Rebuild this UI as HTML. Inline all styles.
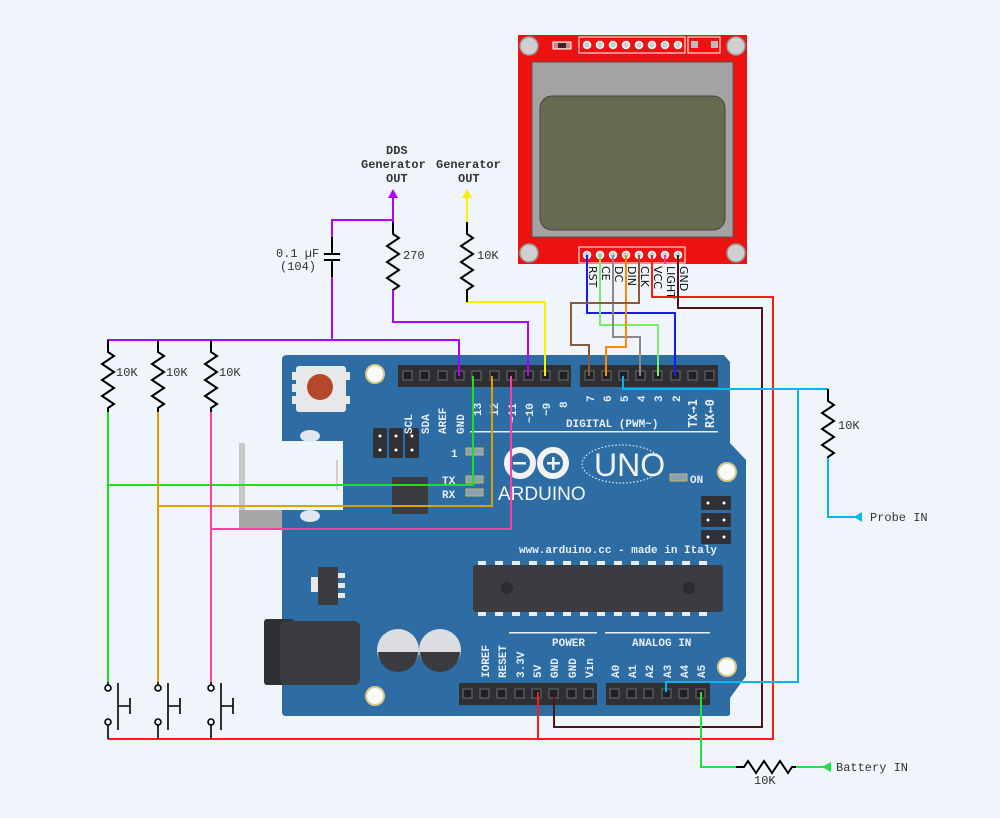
<!DOCTYPE html>
<html><head><meta charset="utf-8"><style>
html,body{margin:0;padding:0;background:#f0f4fb;}
svg{display:block;}
.w{fill:none;stroke-width:2;}
.lbl{font-family:"Liberation Mono",monospace;font-size:12px;fill:#333;}
.bl{font-family:"Liberation Mono","DejaVu Sans Mono",monospace;font-weight:bold;font-size:11px;fill:#e8eef5;}
.ar{font-family:"DejaVu Sans Mono",monospace;font-weight:bold;fill:#e8eef5;}
.lc{font-family:"DejaVu Sans","Liberation Sans",sans-serif;font-size:11px;fill:#111;}
</style></head><body>
<svg width="1000" height="818" viewBox="0 0 1000 818" xmlns="http://www.w3.org/2000/svg">
<rect width="1000" height="818" fill="#f0f4fb"/>

<rect x="239" y="510" width="44" height="20" fill="#a7a7a7"/>
<path d="M288 355 H724 L730 362 V443 L746 460 V676 L730 698 V714 Q730 716 726 716 H286 Q282 716 282 712 V359 Q282 355 288 355 Z" fill="#2d6da3"/>
<rect x="239" y="441" width="104" height="69" fill="#f0f4fb"/>
<rect x="239" y="443" width="6" height="67" fill="#c8c8c8"/>
<rect x="336" y="460" width="2" height="30" fill="#d0d0d0"/>
<ellipse cx="310" cy="436" rx="10" ry="6" fill="#dfe6ee"/>
<ellipse cx="310" cy="516" rx="10" ry="6" fill="#dfe6ee"/>

<rect x="296" y="366" width="50" height="46" rx="3" fill="#e6e8ea"/>
<rect x="292" y="372" width="4" height="8" fill="#e6e8ea"/><rect x="292" y="384" width="4" height="8" fill="#e6e8ea"/><rect x="292" y="396" width="4" height="8" fill="#e6e8ea"/>
<rect x="346" y="372" width="4" height="8" fill="#e6e8ea"/><rect x="346" y="396" width="4" height="8" fill="#e6e8ea"/>
<circle cx="320" cy="387" r="13" fill="#b5472a"/>
<g fill="#fafafa" stroke="#d8c98a" stroke-width="2">
<circle cx="375" cy="374" r="9"/><circle cx="727" cy="472" r="9"/><circle cx="727" cy="667" r="9"/><circle cx="375" cy="696" r="9"/>
</g>
<g fill="#2f3136"><rect x="373" y="428" width="14" height="30" rx="2"/><rect x="389" y="428" width="14" height="30" rx="2"/><rect x="405" y="428" width="14" height="30" rx="2"/></g>
<g fill="#fff"><circle cx="380" cy="436" r="1.5"/><circle cx="380" cy="450" r="1.5"/><circle cx="396" cy="436" r="1.5"/><circle cx="396" cy="450" r="1.5"/><circle cx="412" cy="436" r="1.5"/><circle cx="412" cy="450" r="1.5"/></g>
<rect x="392" y="477" width="36" height="37" rx="2" fill="#3a3c40"/>
<g fill="#8aa0b5" stroke="#c9b66a" stroke-width="1"><rect x="466" y="448" width="17" height="7"/><rect x="466" y="476" width="17" height="7"/><rect x="466" y="489" width="17" height="7"/><rect x="670" y="474" width="17" height="7"/></g>
<text x="451" y="457" class="bl" font-size="12">1</text>
<text x="442" y="484" class="bl" font-size="12">TX</text>
<text x="442" y="498" class="bl" font-size="12">RX</text>
<text x="690" y="483" class="bl" font-size="12">ON</text>
<g fill="#2f3136"><rect x="701" y="496" width="30" height="14" rx="2"/><rect x="701" y="513" width="30" height="14" rx="2"/><rect x="701" y="530" width="30" height="14" rx="2"/></g>
<g fill="#fff"><circle cx="708" cy="503" r="1.5"/><circle cx="724" cy="503" r="1.5"/><circle cx="708" cy="520" r="1.5"/><circle cx="724" cy="520" r="1.5"/><circle cx="708" cy="537" r="1.5"/><circle cx="724" cy="537" r="1.5"/></g>
<g fill="none" stroke="#f2f2f2" stroke-width="6"><circle cx="520" cy="463" r="13"/><circle cx="553" cy="463" r="13"/></g>
<rect x="513" y="462" width="13" height="2.5" fill="#f2f2f2"/>
<rect x="547" y="462" width="13" height="2.5" fill="#f2f2f2"/><rect x="552" y="457" width="2.5" height="13" fill="#f2f2f2"/>
<text x="498" y="500" font-family="Liberation Sans,sans-serif" font-size="19" fill="#f2f2f2">ARDUINO</text>
<ellipse cx="622" cy="464" rx="40" ry="19" fill="none" stroke="#e8eef5" stroke-width="1.2" stroke-dasharray="1.5 2"/>
<text x="594" y="476" font-family="Liberation Sans,sans-serif" font-size="32" fill="#eef2f7">UNO</text>
<text x="519" y="553" class="bl" font-size="8.5">www.arduino.cc - made in Italy</text>
<g fill="#e8ecf0">
<rect x="478" y="561" width="8" height="4"/><rect x="495" y="561" width="8" height="4"/><rect x="512" y="561" width="8" height="4"/><rect x="529" y="561" width="8" height="4"/><rect x="546" y="561" width="8" height="4"/><rect x="563" y="561" width="8" height="4"/><rect x="580" y="561" width="8" height="4"/><rect x="597" y="561" width="8" height="4"/><rect x="614" y="561" width="8" height="4"/><rect x="631" y="561" width="8" height="4"/><rect x="648" y="561" width="8" height="4"/><rect x="665" y="561" width="8" height="4"/><rect x="682" y="561" width="8" height="4"/><rect x="699" y="561" width="8" height="4"/>
<rect x="478" y="612" width="8" height="4"/><rect x="495" y="612" width="8" height="4"/><rect x="512" y="612" width="8" height="4"/><rect x="529" y="612" width="8" height="4"/><rect x="546" y="612" width="8" height="4"/><rect x="563" y="612" width="8" height="4"/><rect x="580" y="612" width="8" height="4"/><rect x="597" y="612" width="8" height="4"/><rect x="614" y="612" width="8" height="4"/><rect x="631" y="612" width="8" height="4"/><rect x="648" y="612" width="8" height="4"/><rect x="665" y="612" width="8" height="4"/><rect x="682" y="612" width="8" height="4"/><rect x="699" y="612" width="8" height="4"/>
</g>
<rect x="473" y="565" width="250" height="47" rx="3" fill="#3a3c40"/>
<circle cx="507" cy="588" r="6" fill="#2a2c30"/><circle cx="689" cy="588" r="6" fill="#2a2c30"/>
<rect x="311" y="577" width="8" height="15" fill="#e6e8ea"/>
<rect x="318" y="567" width="20" height="38" fill="#3a3c40"/>
<rect x="338" y="573" width="7" height="5" fill="#e6e8ea"/><rect x="338" y="583" width="7" height="5" fill="#e6e8ea"/><rect x="338" y="593" width="7" height="5" fill="#e6e8ea"/>
<rect x="264" y="619" width="30" height="66" rx="3" fill="#2f3034"/>
<rect x="280" y="621" width="80" height="64" rx="6" fill="#3a3c40"/>
<circle cx="398" cy="650" r="21" fill="#dcdde0"/><path d="M378 652 H418 A20 20 0 0 1 378 652 Z" fill="#3a3c40"/>
<circle cx="440" cy="650" r="21" fill="#dcdde0"/><path d="M420 652 H460 A20 20 0 0 1 420 652 Z" fill="#3a3c40"/>

<rect x="398" y="365" width="173" height="22" fill="#2e3034"/>
<rect x="580" y="365" width="138" height="22" fill="#2e3034"/>
<rect x="459" y="683" width="138" height="22" fill="#2e3034"/>
<rect x="606" y="683" width="104" height="22" fill="#2e3034"/>
<g fill="#1f2023" stroke="#56585c" stroke-width="1.5">
<rect x="403" y="371" width="9" height="9"/><rect x="420" y="371" width="9" height="9"/><rect x="438" y="371" width="9" height="9"/><rect x="455" y="371" width="9" height="9"/><rect x="472" y="371" width="9" height="9"/><rect x="490" y="371" width="9" height="9"/><rect x="507" y="371" width="9" height="9"/><rect x="524" y="371" width="9" height="9"/><rect x="541" y="371" width="9" height="9"/><rect x="559" y="371" width="9" height="9"/>
<rect x="585" y="371" width="9" height="9"/><rect x="602" y="371" width="9" height="9"/><rect x="619" y="371" width="9" height="9"/><rect x="636" y="371" width="9" height="9"/><rect x="653" y="371" width="9" height="9"/><rect x="671" y="371" width="9" height="9"/><rect x="688" y="371" width="9" height="9"/><rect x="705" y="371" width="9" height="9"/>
<rect x="463" y="689" width="9" height="9"/><rect x="480" y="689" width="9" height="9"/><rect x="497" y="689" width="9" height="9"/><rect x="515" y="689" width="9" height="9"/><rect x="532" y="689" width="9" height="9"/><rect x="549" y="689" width="9" height="9"/><rect x="567" y="689" width="9" height="9"/><rect x="584" y="689" width="9" height="9"/>
<rect x="610" y="689" width="9" height="9"/><rect x="627" y="689" width="9" height="9"/><rect x="644" y="689" width="9" height="9"/><rect x="662" y="689" width="9" height="9"/><rect x="679" y="689" width="9" height="9"/><rect x="696" y="689" width="9" height="9"/>
</g>
<g class="bl" font-size="13">
<text transform="translate(412,434) rotate(-90)">SCL</text>
<text transform="translate(429,434) rotate(-90)">SDA</text>
<text transform="translate(446,434) rotate(-90)">AREF</text>
<text transform="translate(464,434) rotate(-90)">GND</text>
<text transform="translate(481,416) rotate(-90)">13</text>
<text transform="translate(498,416) rotate(-90)">12</text>
<text transform="translate(516,423) rotate(-90)">~11</text>
<text transform="translate(533,423) rotate(-90)">~10</text>
<text transform="translate(550,416) rotate(-90)">~9</text>
<text transform="translate(567,408) rotate(-90)">8</text>
<text transform="translate(594,402) rotate(-90)">7</text>
<text transform="translate(611,402) rotate(-90)">6</text>
<text transform="translate(628,402) rotate(-90)">5</text>
<text transform="translate(645,402) rotate(-90)">4</text>
<text transform="translate(662,402) rotate(-90)">3</text>
<text transform="translate(680,402) rotate(-90)">2</text>
</g>
<g class="ar" font-size="12">
<text transform="translate(697,428) rotate(-90)">TX→1</text>
<text transform="translate(714,428) rotate(-90)">RX←0</text>
</g>
<text x="566" y="427" class="bl" font-size="12">DIGITAL (PWM~)</text>
<rect x="470" y="431" width="248" height="1.5" fill="#e8eef5"/>
<g class="bl" font-size="12">
<text transform="translate(489,678) rotate(-90)">IOREF</text>
<text transform="translate(506,678) rotate(-90)">RESET</text>
<text transform="translate(524,678) rotate(-90)">3.3V</text>
<text transform="translate(541,678) rotate(-90)">5V</text>
<text transform="translate(558,678) rotate(-90)">GND</text>
<text transform="translate(576,678) rotate(-90)">GND</text>
<text transform="translate(593,678) rotate(-90)">Vin</text>
<text transform="translate(619,678) rotate(-90)">A0</text>
<text transform="translate(636,678) rotate(-90)">A1</text>
<text transform="translate(653,678) rotate(-90)">A2</text>
<text transform="translate(671,678) rotate(-90)">A3</text>
<text transform="translate(688,678) rotate(-90)">A4</text>
<text transform="translate(705,678) rotate(-90)">A5</text>
</g>
<text x="552" y="646" class="bl" font-size="12">POWER</text>
<text x="632" y="646" class="bl" font-size="12">ANALOG IN</text>
<rect x="509" y="632" width="88" height="1.5" fill="#e8eef5"/>
<rect x="605" y="632" width="105" height="1.5" fill="#e8eef5"/>

<rect x="518" y="35" width="229" height="229" fill="#ee1111"/>
<rect x="532" y="62" width="201" height="175" fill="#a3a3a3" stroke="#555" stroke-width="1"/>
<rect x="540" y="96" width="185" height="134" rx="12" fill="#666a4f" stroke="#444" stroke-width="1"/>
<g fill="#d0d0d0" stroke="#999" stroke-width="1.5">
<circle cx="529" cy="46" r="9"/><circle cx="736" cy="46" r="9"/><circle cx="529" cy="253" r="9"/><circle cx="736" cy="253" r="9"/>
</g>
<rect x="579" y="37" width="106" height="16" fill="none" stroke="#fff" stroke-width="1"/>
<rect x="688" y="37" width="32" height="16" fill="none" stroke="#fff" stroke-width="1"/>
<rect x="691" y="41" width="7" height="7" fill="#bbb"/><rect x="711" y="41" width="7" height="7" fill="#bbb"/>
<rect x="553" y="42" width="18" height="7" fill="#cc8888" stroke="#fff" stroke-width="1"/><rect x="558" y="43" width="8" height="5" fill="#442222"/>
<rect x="579" y="247" width="106" height="16" fill="none" stroke="#fff" stroke-width="1"/>
<g fill="#ccc" stroke="#fff" stroke-width="1.5">
<circle cx="587" cy="45" r="3.5"/><circle cx="600" cy="45" r="3.5"/><circle cx="613" cy="45" r="3.5"/><circle cx="626" cy="45" r="3.5"/><circle cx="639" cy="45" r="3.5"/><circle cx="652" cy="45" r="3.5"/><circle cx="665" cy="45" r="3.5"/><circle cx="678" cy="45" r="3.5"/>
<circle cx="587" cy="255" r="3.5"/><circle cx="600" cy="255" r="3.5"/><circle cx="613" cy="255" r="3.5"/><circle cx="626" cy="255" r="3.5"/><circle cx="639" cy="255" r="3.5"/><circle cx="652" cy="255" r="3.5"/><circle cx="665" cy="255" r="3.5"/><circle cx="678" cy="255" r="3.5"/>
</g>
<g class="lc">
<text transform="translate(589,266) rotate(90)">RST</text>
<text transform="translate(602,266) rotate(90)">CE</text>
<text transform="translate(615,266) rotate(90)">DC</text>
<text transform="translate(628,266) rotate(90)">DIN</text>
<text transform="translate(641,266) rotate(90)">CLK</text>
<text transform="translate(654,266) rotate(90)">VCC</text>
<text transform="translate(667,266) rotate(90)">LIGHT</text>
<text transform="translate(680,266) rotate(90)">GND</text>
</g>

<path class="w" stroke="#1a1aee" d="M587 255 V313 H675 V376"/>
<path class="w" stroke="#77ee66" d="M600 255 V325 H658 V376"/>
<path class="w" stroke="#8a8a8a" d="M613 255 V337 H640 V376"/>
<path class="w" stroke="#ff8800" d="M626 255 V347 H606 V376"/>
<path class="w" stroke="#8b5a3c" d="M639 255 V303 H571 V345 H589 V376"/>
<path class="w" stroke="#ff33aa" d="M665 255 V264"/>
<path class="w" stroke="#ff1a1a" d="M652 255 V297 H773 V739 H108"/>
<path class="w" stroke="#ff1a1a" d="M538 692 V739"/>
<path class="w" stroke="#4a1818" d="M678 255 V308 H762 V727 H554 V692"/>

<path class="w" stroke="#00b8ee" d="M623 376 V389 H828"/>
<path class="w" stroke="#00b8ee" d="M798 389 V682 H666 V692"/>
<path class="w" stroke="#000" stroke-width="1.6" d="M828 389 v12 l6 4 l-12 8 l12 8 l-12 8 l12 8 l-12 8 l12 8 l-6 4 v12"/>
<path class="w" stroke="#00b8ee" d="M828 458 V517 H858"/>
<path d="M854 517 L862 512 V522 Z" fill="#00b8ee"/>
<text x="838" y="429" class="lbl">10K</text>
<text x="870" y="521" class="lbl">Probe IN</text>

<path class="w" stroke="#22e044" d="M701 692 V767 H736"/>
<path class="w" stroke="#000" stroke-width="1.6" d="M736 767 h8 l4 -6 l8 12 l8 -12 l8 12 l8 -12 l8 12 l4 -6 h8"/>
<path class="w" stroke="#22e044" d="M796 767 H826"/>
<path d="M822 767 L831 762 V772 Z" fill="#22e044"/>
<text x="836" y="771" class="lbl">Battery IN</text>
<text x="754" y="784" class="lbl">10K</text>

<path class="w" stroke="#b000ff" d="M393 222 V197"/>
<path d="M393 189 L388 198 H398 Z" fill="#b000ff"/>
<path class="w" stroke="#b000ff" d="M332 237 V220 H393"/>
<path class="w" stroke="#000" stroke-width="1.6" d="M332 237 V254 M332 260 V277 M324 254 H340 M324 260 H340"/>
<path class="w" stroke="#b000ff" d="M332 277 V340 M107 340 H459 V376"/>
<path class="w" stroke="#000" stroke-width="1.6" d="M393 222 v12 l6 4 l-12 8 l12 8 l-12 8 l12 8 l-12 8 l12 8 l-6 4 v12"/>
<path class="w" stroke="#b000ff" d="M393 290 V322 H528 V376"/>
<text x="276" y="257" class="lbl">0.1 µF</text>
<text x="280" y="270" class="lbl">(104)</text>
<text x="403" y="259" class="lbl">270</text>
<text x="386" y="154" class="lbl" font-weight="bold">DDS</text>
<text x="361" y="168" class="lbl" font-weight="bold">Generator</text>
<text x="386" y="182" class="lbl" font-weight="bold">OUT</text>
<text x="436" y="168" class="lbl" font-weight="bold">Generator</text>
<text x="458" y="182" class="lbl" font-weight="bold">OUT</text>

<path class="w" stroke="#ffee00" d="M467 222 V197 M467 290 V302 H545 V376"/>
<path d="M467 189 L462 198 H472 Z" fill="#ffee00"/>
<path class="w" stroke="#000" stroke-width="1.6" d="M467 222 v12 l6 4 l-12 8 l12 8 l-12 8 l12 8 l-12 8 l12 8 l-6 4 v12"/>
<text x="477" y="259" class="lbl">10K</text>

<g class="w" stroke="#000" stroke-width="1.6">
<path d="M108 340 v12 l6 4 l-12 8 l12 8 l-12 8 l12 8 l-12 8 l12 8 l-6 4 v12"/>
<path d="M158 340 v12 l6 4 l-12 8 l12 8 l-12 8 l12 8 l-12 8 l12 8 l-6 4 v12"/>
<path d="M211 340 v12 l6 4 l-12 8 l12 8 l-12 8 l12 8 l-12 8 l12 8 l-6 4 v12"/>
</g>
<text x="116" y="376" class="lbl">10K</text>
<text x="166" y="376" class="lbl">10K</text>
<text x="219" y="376" class="lbl">10K</text>
<path class="w" stroke="#22dd22" d="M108 412 V682 M108 485 H473 V376"/>
<path class="w" stroke="#e0a000" d="M158 412 V682 M158 506 H492 V376"/>
<path class="w" stroke="#ff3ea5" d="M211 412 V682 M211 529 H511 V376"/>

<g fill="none" stroke="#000" stroke-width="1.6">
<path d="M108 682 V685 M108 725 V739"/><circle cx="108" cy="688" r="3"/><circle cx="108" cy="722" r="3"/>
<path d="M118 683 V730 M118 706 H130 M130 698 V714"/>
<path d="M158 682 V685 M158 725 V739"/><circle cx="158" cy="688" r="3"/><circle cx="158" cy="722" r="3"/>
<path d="M168 683 V730 M168 706 H180 M180 698 V714"/>
<path d="M211 682 V685 M211 725 V739"/><circle cx="211" cy="688" r="3"/><circle cx="211" cy="722" r="3"/>
<path d="M221 683 V730 M221 706 H233 M233 698 V714"/>
</g>
</svg>
</body></html>
